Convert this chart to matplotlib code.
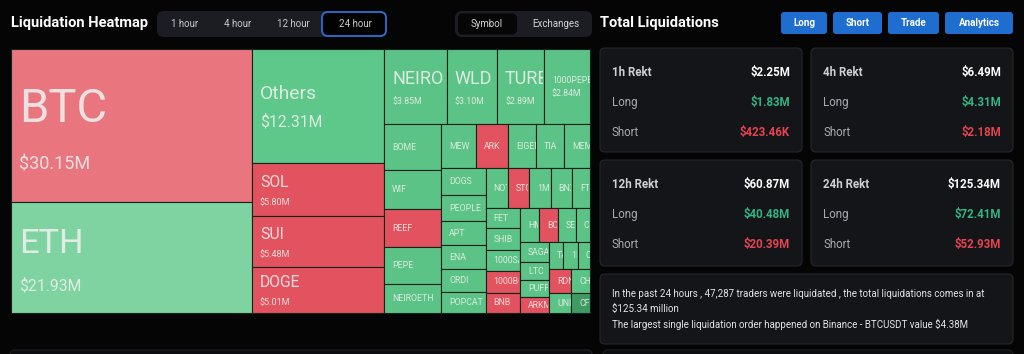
import matplotlib
matplotlib.use("Agg")
import matplotlib.pyplot as plt
from matplotlib.patches import Rectangle, FancyBboxPatch
from matplotlib.transforms import Bbox
from matplotlib import font_manager as fm

# fonts: narrow face if present
_names = {f.name for f in fm.fontManager.ttflist}
FONT = 'Liberation Sans Narrow' if 'Liberation Sans Narrow' in _names else 'Roboto'
plt.rcParams['font.family'] = [FONT, 'DejaVu Sans']

# ---- data ----
symbols = ['BTC', 'ETH', 'Others', 'SOL', 'SUI', 'DOGE',
           'NEIRO', 'WLD', 'TURBO', '1000PEPE',
           'BOME', 'WIF', 'REEF', 'PEPE', 'NEIROETH',
           'MEW', 'ARK', 'EIGEN', 'TIA', 'MEME',
           'DOGS', 'PEOPLE', 'APT', 'ENA', 'ORDI', 'POPCAT',
           'NOT', 'STG', '1MBABYDOGE', 'BNX', 'FTM',
           'FET', 'SHIB', '1000SATS', '1000BONK', 'BNB',
           'HMSTR', 'BCH', 'SEI', 'CRV',
           'SAGA', 'LTC', 'PUFFER', 'ARKM',
           'TAO', '1INCH', 'CELO',
           'RDNT', 'UNI', 'CHZ', 'CFX']
liq_musd = [30.15, 21.93, 12.31, 5.80, 5.48, 5.01,
            3.85, 3.10, 2.89, 2.84,
            2.15, 1.82, 1.78, 1.73, 1.36,
            1.26, 1.15, 1.01, 1.01, 0.94,
            0.97, 0.94, 0.87, 0.87, 0.83, 0.76,
            0.72, 0.69, 0.71, 0.69, 0.59,
            0.57, 0.60, 0.60, 0.60, 0.57,
            0.53, 0.53, 0.50, 0.39,
            0.48, 0.43, 0.40, 0.38,
            0.32, 0.32, 0.27,
            0.43, 0.36, 0.37, 0.31]
short_heavy = {'BTC', 'SOL', 'SUI', 'DOGE', 'ARK', 'REEF', 'STG', 'BCH',
               '1000BONK', 'BNB', 'RDNT', 'ARKM'}
# squarified strips (as the heatmap groups them)
strips = [['BTC', 'ETH'], ['Others', 'SOL', 'SUI', 'DOGE'],
          ['NEIRO', 'WLD', 'TURBO', '1000PEPE'],
          ['BOME', 'WIF', 'REEF', 'PEPE', 'NEIROETH'],
          ['MEW', 'ARK', 'EIGEN', 'TIA', 'MEME'],
          ['DOGS', 'PEOPLE', 'APT', 'ENA', 'ORDI', 'POPCAT'],
          ['NOT', 'STG', '1MBABYDOGE', 'BNX', 'FTM'],
          ['FET', 'SHIB', '1000SATS', '1000BONK', 'BNB'],
          ['HMSTR', 'BCH', 'SEI', 'CRV'],
          ['SAGA', 'LTC', 'PUFFER', 'ARKM'],
          ['TAO', '1INCH', 'CELO'],
          ['RDNT', 'UNI'], ['CHZ'], ['CFX']]
strip_dir = ['col', 'col', 'row', 'col', 'row', 'col', 'row', 'col', 'row',
             'col', 'row', 'col', 'row', 'row']

periods = ['1h', '4h', '12h', '24h']
rekt_total = [2.25, 6.49, 60.87, 125.34]
rekt_long = [1.83, 4.31, 40.48, 72.41]
rekt_short = [0.42346, 2.18, 20.39, 52.93]
traders = 47287
largest_order = ('Binance', 'BTCUSDT', 4.38)

time_tabs = ['1 hour', '4 hour', '12 hour', '24 hour']
view_tabs = ['Symbol', 'Exchanges']
buttons = ['Long', 'Short', 'Trade', 'Analytics']

# ---- colours ----
BG = '#050506'
CARD = '#141519'
CARD_EDGE = '#26272c'
GREEN = '#5cc386'
RED = '#e2535f'
special = {'BTC': '#e9757e', 'ETH': '#7ed3a0', 'Others': '#5ec88a', 'CFX': '#3f9a63'}
VAL_GREEN = '#33b482'
VAL_RED = '#e5434f'


def fmt_money(v):
    if v < 1:
        return '$%.2fK' % (v * 1000)
    return '$%.2fM' % v


def strip_layout(strips, vals, rect, dirs):
    x, y, w, h = rect
    k = w * h / sum(vals.values())
    out = {}
    for strip, d in zip(strips, dirs):
        a = sum(vals[n] for n in strip) * k
        if d == 'col':
            sw = a / h
            yy = y
            for n in strip:
                ch = vals[n] * k / sw
                out[n] = (x, yy, sw, ch)
                yy += ch
            x += sw
            w -= sw
        else:
            sh = a / w
            xx = x
            for n in strip:
                cw = vals[n] * k / sh
                out[n] = (xx, y, cw, sh)
                xx += cw
            y += sh
            h -= sh
    return out


def label_sizes(v, name):
    if v >= 25:
        return 1.13 * v, 13
    if v >= 10:
        return 1.13 * v, 11.3
    if v >= 5:
        return 11.3, 6.5
    if v >= 2.5:
        return (13, 6.3) if len(name) <= 5 else (6.2, 6.3)
    return 6.3, None


fig = plt.figure(figsize=(10.24, 3.54), dpi=100, facecolor=BG)
ax = fig.add_axes([0, 0, 1, 1])
ax.set_xlim(0, 1024)
ax.set_ylim(354, 0)
ax.axis('off')
ax.set_facecolor(BG)


def rbox(x, y, w, h, fc, ec='none', r=5, lw=1.0, z=1):
    p = FancyBboxPatch((x, y), w, h, boxstyle='round,pad=0,rounding_size=%g' % r,
                       fc=fc, ec=ec, lw=lw, zorder=z)
    ax.add_patch(p)
    return p


def clip_to(t, x, y, w, h):
    p0 = ax.transData.transform((x + 0.5, y + h - 0.5))
    p1 = ax.transData.transform((x + w - 0.5, y + 0.5))
    t.set_clip_on(True)
    t.set_clip_box(Bbox([p0, p1]))


# ---- header left ----
ax.text(11, 23, 'Liquidation Heatmap', color='white', fontsize=10.5,
        fontweight='bold', va='center')
rbox(157, 11, 230, 26, '#1c1d22', r=7)
tab_x = [185, 238, 293, 355]
for t, tx in zip(time_tabs, tab_x):
    ax.text(tx, 24, t, color='#c9cacd', fontsize=7, ha='center', va='center', zorder=3)
rbox(322, 12, 64, 24, '#020203', ec='#2d6fd4', r=6, lw=1.3, z=2)

rbox(455, 11, 137, 26, '#1c1d22', r=7)
rbox(458, 13.5, 59, 21, '#060607', r=5, z=2)
for t, tx in zip(view_tabs, [487, 556]):
    ax.text(tx, 24, t, color='#d2d3d6', fontsize=7, ha='center', va='center', zorder=3)

# ---- treemap ----
vals = dict(zip(symbols, liq_musd))
cells = strip_layout(strips, vals, (11, 49, 579, 264), strip_dir)
for name in symbols:
    x, y, w, h = cells[name]
    v = vals[name]
    col = special.get(name, RED if name in short_heavy else GREEN)
    rect = Rectangle((x, y), w, h, fc=col, ec='#16221a', lw=0.8, zorder=2)
    ax.add_patch(rect)
    ns, vs = label_sizes(v, name)
    en = ns * 100 / 72
    cy = y + h / 2
    if vs is None:
        t = ax.text(x + 8, cy, name, color='#eef3ef', alpha=0.85, fontsize=ns,
                    va='center', ha='left', zorder=3)
        clip_to(t, x, y, w, h)
        continue
    ev = vs * 100 / 72
    a = 0.5 * (1.2 * ev + 0.25 * en)
    b = 0.825 * en
    t1 = ax.text(x + 8, cy - a, name, color='#eef0ee', alpha=0.88, fontsize=ns,
                 va='center', ha='left', zorder=3)
    t2 = ax.text(x + 8, cy + b, fmt_money(v), color='#eef0ee', alpha=0.88,
                 fontsize=vs, va='center', ha='left', zorder=3)
    clip_to(t1, x, y, w, h)
    clip_to(t2, x, y, w, h)

# ---- right panel ----
ax.text(600, 23, 'Total Liquidations', color='white', fontsize=10.5,
        fontweight='bold', va='center')
btn_spans = [(781, 46), (833, 49), (888, 51), (945, 68)]
for b_, (bx, bw) in zip(buttons, btn_spans):
    rbox(bx, 12, bw, 22, '#1e6dcf', r=3)
    ax.text(bx + bw / 2, 23.5, b_, color='white', fontsize=7, fontweight='bold',
            ha='center', va='center', zorder=3)

card_pos = [(600, 48, 202, 104), (811, 48, 202, 104),
            (600, 160, 202, 106), (811, 160, 202, 106)]
for p, tot, lo, sh, (cx, cy, cw, ch) in zip(periods, rekt_total, rekt_long,
                                            rekt_short, card_pos):
    rbox(cx, cy, cw, ch, CARD, ec=CARD_EDGE, r=5, lw=0.8)
    lx, rx = cx + 12, cx + cw - 12
    ax.text(lx, cy + 24.5, p + ' Rekt', color='#cfd0d3', fontsize=8.3,
            fontweight='bold', va='center', zorder=3)
    ax.text(rx, cy + 24.5, fmt_money(tot), color='white', fontsize=8.3,
            fontweight='bold', va='center', ha='right', zorder=3)
    ax.text(lx, cy + 54.5, 'Long', color='#a9abb0', fontsize=8.3, va='center', zorder=3)
    ax.text(rx, cy + 54.5, fmt_money(lo), color=VAL_GREEN, fontsize=8.3,
            fontweight='bold', va='center', ha='right', zorder=3)
    ax.text(lx, cy + 84.5, 'Short', color='#a9abb0', fontsize=8.3, va='center', zorder=3)
    ax.text(rx, cy + 84.5, fmt_money(sh), color=VAL_RED, fontsize=8.3,
            fontweight='bold', va='center', ha='right', zorder=3)

rbox(600, 274, 413, 70, CARD, ec=CARD_EDGE, r=5, lw=0.8)
summary = ['In the past 24 hours , {:,} traders were liquidated , the total '
           'liquidations comes in at'.format(traders),
           '${:.2f} million'.format(rekt_total[-1]),
           'The largest single liquidation order happened on {} - {} value '
           '${:.2f}M'.format(*largest_order)]
for i, line in enumerate(summary):
    ax.text(612, 294 + 15 * i, line, color='#e3e4e6', fontsize=7, va='center', zorder=3)

# partial panels below
rbox(10, 350, 582, 30, '#0c0d10', ec='#1f2024', r=5, lw=0.8)
rbox(603, 350, 410, 30, '#0c0d10', ec='#1f2024', r=5, lw=0.8)

fig.savefig('out.png', dpi=100, facecolor=BG)
